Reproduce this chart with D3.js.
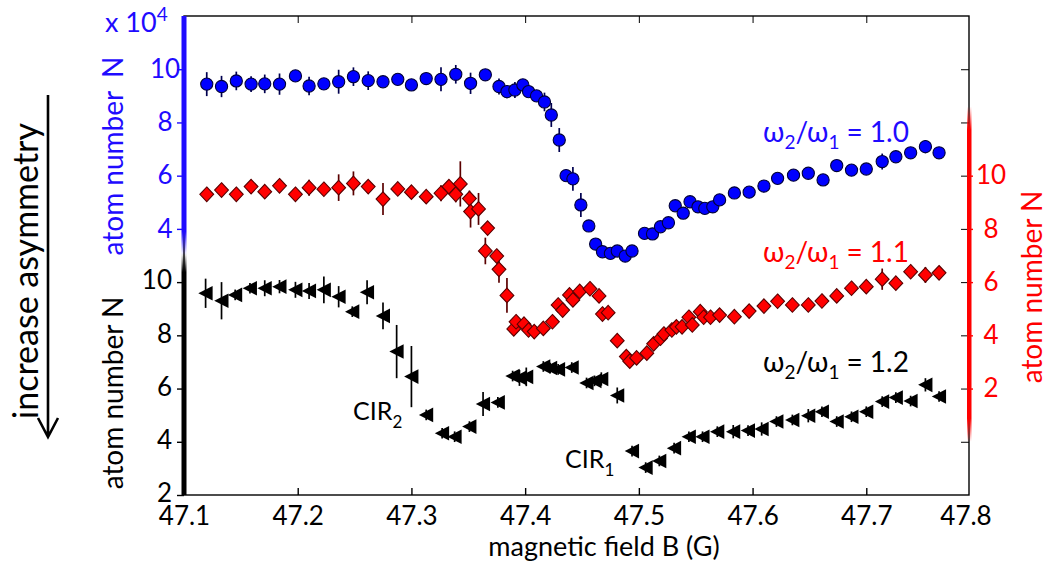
<!DOCTYPE html>
<html>
<head>
<meta charset="utf-8">
<script src="https://cdn.jsdelivr.net/npm/d3@7"></script>
<style>
  body { margin: 0; background: #fff; }
  text { font-family: Lato, "Open Sans", sans-serif; }
</style>
</head>
<body>
<svg id="chart" width="1048" height="563"></svg>
<script>
// ---- data ----
// omega2/omega1 = 1.0 (blue circles, left upper axis, x 10^4)
const blueB = [47.120, 47.133, 47.146, 47.159, 47.171, 47.184, 47.198, 47.210, 47.223, 47.236,
  47.249, 47.262, 47.275, 47.288, 47.300, 47.313, 47.326, 47.339, 47.352, 47.365,
  47.377, 47.384, 47.391, 47.398, 47.403, 47.410, 47.417, 47.423, 47.430, 47.436,
  47.442, 47.449, 47.456, 47.462, 47.468, 47.475, 47.481, 47.488, 47.494, 47.505,
  47.512, 47.519, 47.526, 47.532, 47.539, 47.545, 47.552, 47.558, 47.565, 47.571,
  47.584, 47.597, 47.610, 47.622, 47.636, 47.649, 47.662, 47.674, 47.687, 47.700,
  47.714, 47.726, 47.739, 47.752, 47.764];
const blueN = [9.44, 9.35, 9.56, 9.44, 9.45, 9.44, 9.75, 9.37, 9.45, 9.53,
  9.72, 9.57, 9.53, 9.62, 9.41, 9.65, 9.62, 9.81, 9.47, 9.79,
  9.35, 9.16, 9.22, 9.41, 9.16, 9.00, 8.77, 8.28, 7.34, 6.00,
  5.88, 4.90, 4.11, 3.43, 3.14, 3.08, 3.17, 2.98, 3.17, 3.83,
  3.81, 4.08, 4.23, 4.87, 4.59, 5.02, 4.83, 4.77, 4.83, 5.09,
  5.35, 5.38, 5.61, 5.90, 6.02, 6.09, 5.84, 6.38, 6.21, 6.25,
  6.53, 6.71, 6.86, 7.09, 6.86];
const blueErr = [0.45, 0.4, 0.35, 0.3, 0.35, 0.4, 0.15, 0.35, 0.2, 0.45,
  0.35, 0.35, 0.2, 0.2, 0.15, 0.2, 0.45, 0.35, 0.4, 0.15,
  0.3, 0.25, 0.3, 0.2, 0.2, 0.2, 0.35, 0.45, 0.45, 0.2,
  0.45, 0.45, 0.2, 0.15, 0.15, 0.15, 0.15, 0.15, 0.15, 0.2,
  0.15, 0.15, 0.15, 0.15, 0.15, 0.15, 0.15, 0.15, 0.15, 0.15,
  0.15, 0.15, 0.15, 0.15, 0.15, 0.15, 0.15, 0.15, 0.15, 0.15,
  0.3, 0.15, 0.15, 0.25, 0.15];

// omega2/omega1 = 1.1 (red diamonds, right axis)
const redB = [47.120, 47.133, 47.146, 47.159, 47.171, 47.184, 47.198, 47.210, 47.223, 47.236,
  47.249, 47.262, 47.275, 47.288, 47.300, 47.313, 47.326, 47.333, 47.339, 47.343,
  47.351, 47.352, 47.359, 47.365, 47.367, 47.375, 47.377, 47.384, 47.390, 47.392,
  47.399, 47.403, 47.408, 47.416, 47.424, 47.429, 47.433, 47.439, 47.442, 47.448,
  47.457, 47.465, 47.468, 47.473, 47.481, 47.489, 47.492, 47.498, 47.507, 47.513,
  47.519, 47.522, 47.529, 47.533, 47.538, 47.544, 47.547, 47.554, 47.557, 47.563,
  47.571, 47.584, 47.597, 47.610, 47.622, 47.635, 47.649, 47.661, 47.674, 47.687,
  47.700, 47.714, 47.726, 47.739, 47.752, 47.764];
const redN = [9.30, 9.46, 9.30, 9.59, 9.40, 9.62, 9.30, 9.55, 9.49, 9.55,
  9.71, 9.59, 9.12, 9.50, 9.38, 9.21, 9.34, 9.59, 9.30, 9.69,
  9.14, 8.65, 8.75, 7.17, 8.03, 6.98, 6.48, 5.50, 4.24, 4.51,
  4.42, 4.20, 4.14, 4.26, 4.51, 5.14, 4.95, 5.52, 5.33, 5.65,
  5.75, 5.48, 4.80, 4.85, 3.80, 3.20, 3.03, 3.15, 3.33, 3.68,
  3.89, 4.05, 4.20, 4.32, 4.32, 4.68, 4.39, 4.89, 4.68, 4.68,
  4.76, 4.70, 4.91, 5.10, 5.28, 5.14, 5.14, 5.29, 5.48, 5.77,
  5.83, 6.11, 5.96, 6.39, 6.27, 6.35];
const redErr = [0.2, 0.2, 0.2, 0.25, 0.2, 0.2, 0.2, 0.3, 0.2, 0.5,
  0.45, 0.2, 0.6, 0.2, 0.2, 0.2, 0.3, 0.2, 0.3, 0.85,
  0.3, 0.6, 0.6, 0.5, 0.2, 0.2, 0.5, 0.65, 0.2, 0.2,
  0.2, 0.2, 0.25, 0.2, 0.2, 0.2, 0.2, 0.2, 0.2, 0.2,
  0.2, 0.2, 0.2, 0.2, 0.2, 0.2, 0.2, 0.2, 0.2, 0.2,
  0.2, 0.2, 0.2, 0.2, 0.2, 0.2, 0.2, 0.2, 0.2, 0.2,
  0.2, 0.2, 0.2, 0.2, 0.2, 0.2, 0.2, 0.2, 0.2, 0.2,
  0.2, 0.4, 0.2, 0.2, 0.3, 0.2];

// omega2/omega1 = 1.2 (black triangles, left lower axis)
const blackB = [47.119, 47.133, 47.145, 47.158, 47.171, 47.184, 47.198, 47.210, 47.223, 47.236,
  47.248, 47.261, 47.275, 47.287, 47.300, 47.313, 47.327, 47.338, 47.351, 47.363,
  47.376, 47.389, 47.395, 47.401, 47.416, 47.422, 47.429, 47.441, 47.454, 47.461,
  47.467, 47.481, 47.494, 47.506, 47.518, 47.531, 47.544, 47.556, 47.569, 47.583,
  47.596, 47.608, 47.621, 47.635, 47.649, 47.661, 47.674, 47.687, 47.700, 47.714,
  47.726, 47.739, 47.752, 47.764];
const blackN = [9.58, 9.30, 9.52, 9.77, 9.77, 9.83, 9.71, 9.67, 9.71, 9.45,
  8.89, 9.62, 8.73, 7.39, 6.45, 5.01, 4.32, 4.19, 4.57, 5.42,
  5.48, 6.47, 6.40, 6.44, 6.83, 6.77, 6.72, 6.79, 6.21, 6.29,
  6.36, 5.74, 3.65, 3.03, 3.28, 3.76, 4.19, 4.19, 4.38, 4.38,
  4.42, 4.48, 4.76, 4.82, 4.98, 5.13, 4.76, 4.94, 5.13, 5.51,
  5.66, 5.53, 6.14, 5.70];
const blackErr = [0.55, 0.7, 0.2, 0.2, 0.3, 0.25, 0.3, 0.3, 0.5, 0.4,
  0.2, 0.45, 0.5, 1.0, 1.15, 0.2, 0.2, 0.2, 0.2, 0.45,
  0.2, 0.2, 0.3, 0.35, 0.2, 0.2, 0.2, 0.2, 0.2, 0.2,
  0.25, 0.3, 0.2, 0.2, 0.2, 0.2, 0.2, 0.2, 0.2, 0.25,
  0.2, 0.25, 0.2, 0.2, 0.25, 0.2, 0.2, 0.2, 0.2, 0.2,
  0.2, 0.2, 0.25, 0.2];

const xTicks = [47.1, 47.2, 47.3, 47.4, 47.5, 47.6, 47.7];
const blueTicks = [4, 6, 8, 10];
const blackTicks = [2, 4, 6, 8, 10];
const redTicks = [2, 4, 6, 8, 10];

// ---- layout ----
const pL = 184, pR = 969, pT = 16, pB = 495;
const BLUE = "#1f0bff", RED = "#ff0000";

const svg = d3.select("#chart");
svg.append("rect").attr("width", 1048).attr("height", 563).attr("fill", "#fff");

const x = d3.scaleLinear().domain([47.1, 47.8]).range([pL, 980]);
const yBlue = d3.scaleLinear().domain([-6, 12]).range([pB, pT]);
const yRed = d3.scaleLinear().domain([-2, 16]).range([pB, pT]);
const yBlack = d3.scaleLinear().domain([2, 20]).range([pB, pT]);

const defs = svg.append("defs");
function fade(id, color, stops) {
  const g = defs.append("linearGradient").attr("id", id)
    .attr("x1", 0).attr("y1", 0).attr("x2", 0).attr("y2", 1);
  stops.forEach(s => g.append("stop").attr("offset", s[0])
    .attr("stop-color", color).attr("stop-opacity", s[1]));
}
fade("gBlue", BLUE, [[0, 1], [0.9, 1], [1, 0]]);
fade("gBlack", "#000", [[0, 0], [0.08, 1], [1, 1]]);
fade("gRed", RED, [[0, 0], [0.07, 1], [0.93, 1], [1, 0]]);

// frame
svg.append("rect")
  .attr("x", pL).attr("y", pT)
  .attr("width", pR - pL).attr("height", pB - pT)
  .attr("fill", "none").attr("stroke", "#000").attr("stroke-width", 1.4);

// x axis
const xAxis = svg.append("g").attr("transform", `translate(0,${pB})`)
  .call(d3.axisBottom(x).tickValues(xTicks).tickSize(-7).tickPadding(12)
    .tickFormat(d3.format(".1f")));
svg.append("g").attr("transform", `translate(0,${pT})`)
  .call(d3.axisTop(x).tickValues(xTicks).tickSize(-7).tickFormat(""));
svg.append("text").attr("x", pR - 3).attr("y", pB + 12)
  .attr("dy", "0.71em").attr("text-anchor", "middle")
  .attr("font-size", 26).text("47.8");

// inner ticks on the right frame edge
svg.append("g").attr("transform", `translate(${pR},0)`)
  .call(d3.axisLeft(yBlue).tickValues([-4, -2, 0, 2, 4, 6, 8, 10]).tickSize(8).tickFormat(""));

// coloured axis bars
svg.append("rect").attr("x", pL - 2.5).attr("width", 5)
  .attr("y", pT).attr("height", yBlue(3.0) - pT).attr("fill", "url(#gBlue)");
svg.append("rect").attr("x", pL - 2.5).attr("width", 5)
  .attr("y", yBlack(11.1)).attr("height", pB - yBlack(11.1)).attr("fill", "url(#gBlack)");
svg.append("rect").attr("x", pR - 2).attr("width", 4.5)
  .attr("y", yRed(12.6)).attr("height", yRed(0.0) - yRed(12.6)).attr("fill", "url(#gRed)");

// blue left axis
const gBlueAx = svg.append("g").attr("transform", `translate(${pL},0)`)
  .call(d3.axisLeft(yBlue).tickValues(blueTicks).tickSize(7).tickPadding(4));
gBlueAx.selectAll("text").attr("text-anchor", "middle").attr("x", -19);
// black left axis
const gBlackAx = svg.append("g").attr("transform", `translate(${pL},0)`)
  .call(d3.axisLeft(yBlack).tickValues(blackTicks).tickSize(7).tickPadding(5));
gBlackAx.selectAll("text").attr("dy", "0.26em");
// red right axis
const gRedAx = svg.append("g").attr("transform", `translate(${pR},0)`)
  .call(d3.axisRight(yRed).tickValues(redTicks).tickSize(4).tickPadding(4));
gRedAx.selectAll("text").attr("text-anchor", "middle").attr("x", 22);

[xAxis, gBlueAx, gBlackAx, gRedAx].forEach(g => {
  g.selectAll("text").attr("font-size", 26).attr("font-family", "Lato, sans-serif");
});
xAxis.selectAll(".tick line").attr("stroke-width", 1.4);
gBlueAx.selectAll("text").attr("fill", BLUE);
gBlueAx.selectAll("line").attr("stroke", BLUE).attr("stroke-width", 1.4);
gBlackAx.selectAll("line").attr("stroke-width", 1.4);
gRedAx.selectAll("text").attr("fill", RED);
gRedAx.selectAll("line").attr("stroke", RED).attr("stroke-width", 1.4);
svg.selectAll(".domain").remove();

// ---- series ----
function series(bs, ns, es, y, barColor, drawMarker) {
  const pts = bs.map((b, i) => ({ b: b, n: ns[i], e: es[i] }));
  const g = svg.append("g");
  g.selectAll("line.err").data(pts).join("line").attr("class", "err")
    .attr("x1", d => x(d.b)).attr("x2", d => x(d.b))
    .attr("y1", d => y(d.n - d.e)).attr("y2", d => y(d.n + d.e))
    .attr("stroke", barColor).attr("stroke-width", 1.7);
  drawMarker(g.selectAll("path.mk").data(pts).join("path").attr("class", "mk")
    .attr("transform", d => `translate(${x(d.b)},${y(d.n)})`));
}

series(blueB, blueN, blueErr, yBlue, "#000050", sel => sel
  .attr("d", d3.symbol(d3.symbolCircle, Math.PI * 6.1 * 6.1)())
  .attr("fill", "#0000ff").attr("stroke", "#000038").attr("stroke-width", 1.1));

series(redB, redN, redErr, yRed, "#5a0000", sel => sel
  .attr("d", "M0,-7.3L6.9,0L0,7.3L-6.9,0Z")
  .attr("fill", "#ff0000").attr("stroke", "#5a0000").attr("stroke-width", 1.1));

series(blackB, blackN, blackErr, yBlack, "#000", sel => sel
  .attr("d", "M-7.3,0L7,-7.3L7,7.3Z")
  .attr("fill", "#000"));

// ---- labels ----
function rotLabel(cx, cy, parts, color, size) {
  const t = svg.append("text").attr("transform", `translate(${cx},${cy}) rotate(-90)`)
    .attr("text-anchor", "middle").attr("fill", color).attr("font-size", size);
  parts.forEach(p => t.append("tspan").attr("dx", p[1]).text(p[0]));
}
rotLabel(123, 156, [["atom number", 0], ["N", 13]], BLUE, 28);
rotLabel(123, 393, [["atom number N", 0]], "#000", 28);
rotLabel(1042, 287, [["atom number N", 0]], RED, 28);
rotLabel(38, 271, [["increase asymmetry", 0]], "#000", 34);

// x 10^4
const mult = svg.append("text").attr("x", 105).attr("y", 32).attr("fill", BLUE).attr("font-size", 27);
mult.append("tspan").text("x 10");
mult.append("tspan").attr("dy", -11).attr("font-size", 19).text("4");

// x title
svg.append("text").attr("x", 604).attr("y", 556).attr("text-anchor", "middle")
  .attr("font-size", 27).text("magnetic field B (G)");

// arrow
svg.append("path").attr("d", "M48,95L48,437M38,418L48,437L58,418")
  .attr("fill", "none").attr("stroke", "#000").attr("stroke-width", 2.6);

// ratio labels
function ratio(px, py, val, color) {
  const t = svg.append("text").attr("x", px).attr("y", py).attr("fill", color).attr("font-size", 28);
  t.append("tspan").text("\u03c9");
  t.append("tspan").attr("dy", 7).attr("font-size", 19).text("2");
  t.append("tspan").attr("dy", -7).text("/\u03c9");
  t.append("tspan").attr("dy", 7).attr("font-size", 19).text("1");
  t.append("tspan").attr("dy", -7).attr("dx", 7).text("= " + val);
}
ratio(763, 142, "1.0", BLUE);
ratio(763, 262, "1.1", RED);
ratio(763, 372, "1.2", "#000");

// CIR labels
function cir(px, py, sub) {
  const t = svg.append("text").attr("x", px).attr("y", py).attr("font-size", 25);
  t.append("tspan").text("CIR");
  t.append("tspan").attr("dy", 8).attr("font-size", 17).text(sub);
}
cir(353, 420, "2");
cir(565, 468, "1");
</script>
</body>
</html>
